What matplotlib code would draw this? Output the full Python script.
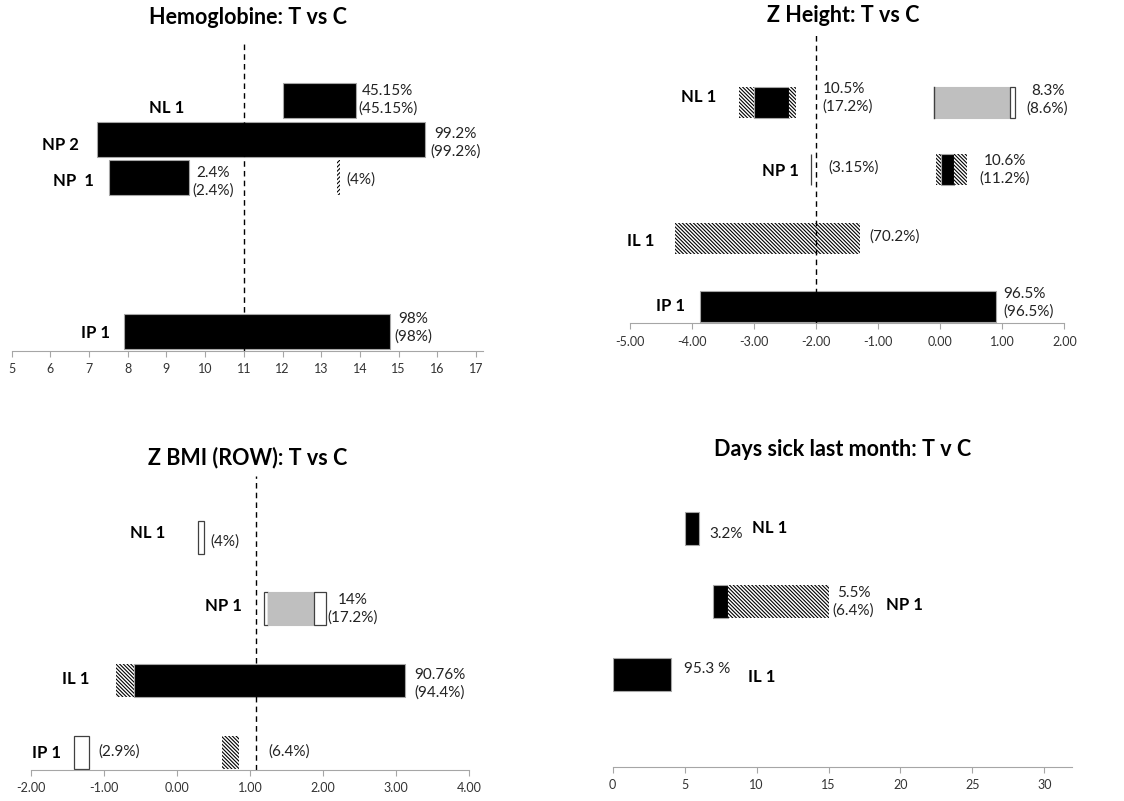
import matplotlib.pyplot as plt

plt.rcParams['font.family'] = ['Lato', 'DejaVu Sans']
plt.rcParams['hatch.linewidth'] = 0.8

W, H = 1124, 801

# ---- Hemoglobine: T vs C ----
hb_rows = ['NL 1', 'NP 2', 'NP  1', 'IP 1']
hb_seg_row = ['NL 1', 'NP 2', 'NP  1', 'NP  1', 'IP 1']
hb_seg_lo = [12.0, 7.20, 7.51, 13.40, 7.89]
hb_seg_hi = [13.9, 15.69, 9.59, 13.48, 14.78]
hb_seg_kind = ['black', 'black', 'black', 'fhatch', 'black']
hb_values = ['45.15%\n(45.15%)', '99.2%\n(99.2%)', '2.4%\n(2.4%)', '(4%)', '98%\n(98%)']
hb_ticks = list(range(5, 18))
hb_ref = 11

# ---- Z Height: T vs C ----
zh_rows = ['NL 1', 'NP 1', 'IL 1', 'IP 1']
zh_seg_row = ['NL 1', 'NL 1', 'NL 1', 'NL 1', 'NL 1',
              'NP 1', 'NP 1', 'NP 1', 'NP 1', 'IL 1', 'IP 1']
zh_seg_lo = [-3.25, -3.00, -2.44, -0.10, 1.12, -2.085, -0.07, 0.02, 0.23, -4.28, -3.87]
zh_seg_hi = [-3.00, -2.44, -2.33, 1.12, 1.20, -2.075, 0.02, 0.23, 0.43, -1.30, 0.90]
zh_seg_kind = ['hatch', 'black', 'hatch', 'gray', 'white',
               'white', 'hatch', 'black', 'hatch', 'hatch', 'black']
zh_values = ['10.5%\n(17.2%)', '8.3%\n(8.6%)', '(3.15%)', '10.6%\n(11.2%)',
             '(70.2%)', '96.5%\n(96.5%)']
zh_ticks = [-5, -4, -3, -2, -1, 0, 1, 2]
zh_ref = -2

# ---- Z BMI (ROW): T vs C ----
zb_rows = ['NL 1', 'NP 1', 'IL 1', 'IP 1']
zb_seg_row = ['NL 1', 'NP 1', 'NP 1', 'NP 1', 'IL 1', 'IL 1', 'IP 1', 'IP 1']
zb_seg_lo = [0.29, 1.19, 1.25, 1.88, -0.83, -0.59, -1.41, 0.62]
zb_seg_hi = [0.37, 1.25, 1.88, 2.04, -0.59, 3.12, -1.20, 0.85]
zb_seg_kind = ['white', 'white', 'gray', 'white', 'hatch', 'black', 'white', 'hatch']
zb_values = ['(4%)', '14%\n(17.2%)', '90.76%\n(94.4%)', '(2.9%)', '(6.4%)']
zb_ticks = [-2, -1, 0, 1, 2, 3, 4]
zb_ref = 1.08

# ---- Days sick last month: T v C ----
ds_rows = ['NL 1', 'NP 1', 'IL 1']
ds_seg_row = ['NL 1', 'NP 1', 'NP 1', 'IL 1']
ds_seg_lo = [5.0, 7.0, 8.0, 0.0]
ds_seg_hi = [6.0, 8.0, 15.0, 4.03]
ds_seg_kind = ['black', 'black', 'hatch', 'black']
ds_values = ['3.2%', '5.5%\n(6.4%)', '95.3 %']
ds_ticks = [0, 5, 10, 15, 20, 25, 30]

STYLES = {
    'black': dict(color='black', edgecolor='#a6a6a6', linewidth=0.8),
    'white': dict(color='white', edgecolor='#404040', linewidth=0.9),
    'gray': dict(color='#bfbfbf', edgecolor='#bfbfbf', linewidth=0.8),
    'hatch': dict(color='white', edgecolor='black', linewidth=0, hatch='\\' * 9),
    'fhatch': dict(color='white', edgecolor='black', linewidth=0, hatch='/' * 8),
}

fig = plt.figure(figsize=(W / 100, H / 100), dpi=100)


def make_axes(left, right, top, bottom, xlim, ticks, fmt):
    # y data runs in figure pixels from the top edge
    ax = fig.add_axes([left / W, 1 - bottom / H, (right - left) / W, (bottom - top) / H])
    ax.set_xlim(*xlim)
    ax.set_ylim(bottom, top)
    ax.set_yticks([])
    for s in ['left', 'right', 'top']:
        ax.spines[s].set_visible(False)
    ax.spines['bottom'].set_color('#a6a6a6')
    ax.set_xticks(ticks)
    ax.set_xticklabels([fmt.format(t) for t in ticks])
    ax.tick_params(axis='x', direction='out', length=4, color='#a6a6a6',
                   labelsize=9, labelcolor='#333333', pad=5)
    return ax


def draw_bars(ax, seg_row, lo, hi, kind, row_y, row_h):
    for r, a, b, k in zip(seg_row, lo, hi, kind):
        ax.barh(row_y[r], b - a, left=a, height=row_h, **STYLES[k])


def row_labels(ax, rows, pos):
    for r, (x, y) in zip(rows, pos):
        ax.text(x, y, r, fontsize=12, fontweight='bold', ha='center', va='center')


def value_labels(ax, texts, pos):
    for t, (x, y, ha) in zip(texts, pos):
        ax.text(x, y, t, fontsize=11, ha=ha, va='center', multialignment=ha,
                linespacing=1.3, color='#222222')


# Hemoglobine
ax1 = make_axes(11.7, 483, 40, 351, (5, 17.18), hb_ticks, '{}')
ax1.axvline(hb_ref, color='black', linestyle=(0, (4, 3)), linewidth=1)
draw_bars(ax1, hb_seg_row, hb_seg_lo, hb_seg_hi, hb_seg_kind,
          {'NL 1': 100.5, 'NP 2': 139.5, 'NP  1': 178, 'IP 1': 332}, 35)
row_labels(ax1, hb_rows, [(9.0, 108), (6.25, 145), (6.59, 181), (7.17, 333)])
value_labels(ax1, hb_values, [(14.72, 100, 'center'), (16.47, 143, 'center'),
                              (10.21, 182, 'center'), (14.02, 180, 'center'),
                              (15.38, 328, 'center')])

# Z Height
ax2 = make_axes(630, 1064.3, 35, 323, (-5, 2), zh_ticks, '{:.2f}')
ax2.axvline(zh_ref, color='black', linestyle=(0, (4, 3)), linewidth=1)
draw_bars(ax2, zh_seg_row, zh_seg_lo, zh_seg_hi, zh_seg_kind,
          {'NL 1': 102, 'NP 1': 169.5, 'IL 1': 238, 'IP 1': 306.5}, 31)
ax2.plot([-0.10, -0.10], [86.5, 117.5], color='#404040', linewidth=1)
row_labels(ax2, zh_rows, [(-3.90, 97), (-2.58, 171), (-4.82, 241), (-4.35, 306)])
value_labels(ax2, zh_values, [(-1.90, 98, 'left'), (1.73, 100, 'center'),
                              (-1.40, 168, 'center'), (1.04, 170, 'center'),
                              (-0.73, 237, 'center'), (1.02, 303, 'left')])

# Z BMI (ROW)
ax3 = make_axes(30.7, 469.3, 476, 770, (-2, 4), zb_ticks, '{:.2f}')
ax3.axvline(zb_ref, color='black', linestyle=(0, (4, 3)), linewidth=1)
draw_bars(ax3, zb_seg_row, zb_seg_lo, zb_seg_hi, zb_seg_kind,
          {'NL 1': 537, 'NP 1': 608.5, 'IL 1': 680.5, 'IP 1': 752.5}, 33)
row_labels(ax3, zb_rows, [(-0.40, 533), (0.63, 606), (-1.39, 679), (-1.79, 753)])
value_labels(ax3, zb_values, [(0.66, 542, 'center'), (2.41, 609, 'center'),
                              (3.25, 684, 'left'), (-0.79, 752, 'center'),
                              (1.535, 752, 'center')])

# Days sick last month
ax4 = make_axes(612.7, 1071.7, 480, 766.7, (0, 31.9), ds_ticks, '{}')
draw_bars(ax4, ds_seg_row, ds_seg_lo, ds_seg_hi, ds_seg_kind,
          {'NL 1': 528.5, 'NP 1': 601.5, 'IL 1': 674.5}, 33)
row_labels(ax4, ds_rows, [(10.94, 528), (20.28, 605), (10.36, 677)])
value_labels(ax4, ds_values, [(7.86, 534, 'center'), (16.73, 602, 'center'),
                              (6.54, 669, 'center')])

titles = ['Hemoglobine: T vs C', 'Z Height: T vs C',
          'Z BMI (ROW): T vs C', 'Days sick last month: T v C']
for t, (x, y) in zip(titles, [(248, 18), (843, 15), (248, 458), (843, 449)]):
    fig.text(x / W, 1 - y / H, t, fontsize=15.5, fontweight='bold', ha='center', va='center')

fig.savefig('out.png', dpi=100)
